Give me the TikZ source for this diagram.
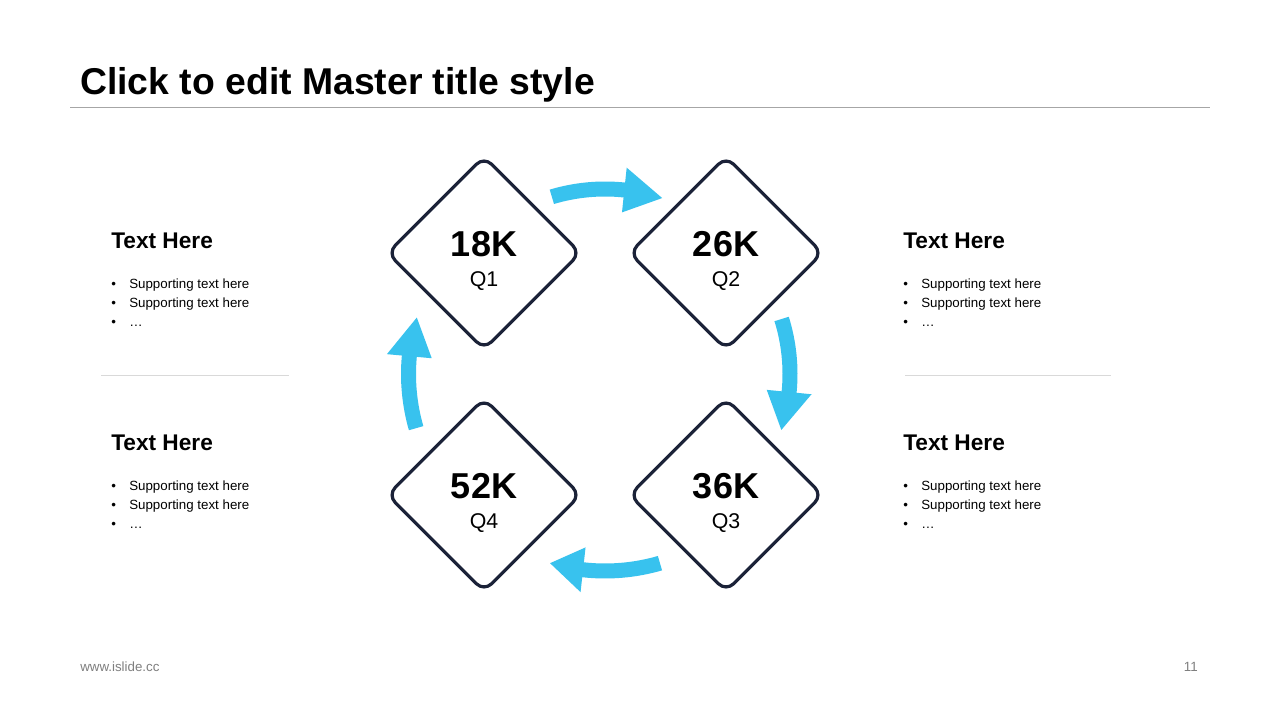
\documentclass[tikz,border=0pt]{standalone}
\usepackage{fontspec}
\setmainfont{Liberation Sans}
\usetikzlibrary{shapes.geometric,calc}
\definecolor{cy}{HTML}{38C2EE}
\definecolor{nv}{HTML}{1B2238}
\definecolor{rulegray}{HTML}{A6A6A6}
\definecolor{sepgray}{HTML}{D9D9D9}
\definecolor{footgray}{HTML}{7F7F7F}
\newcommand\mytblock[3]{%
  \node[headtxt] (#1h) at (#2,#3) {Text Here};
  \node[bultxt] (#1b1) at (#2,#3+40) {•};
  \node[bultxt] (#1t1) at (#2+18,#3+40) {Supporting text here};
  \node[bultxt] (#1b2) at (#2,#3+59) {•};
  \node[bultxt] (#1t2) at (#2+18,#3+59) {Supporting text here};
  \node[bultxt] (#1b3) at (#2,#3+78) {•};
  \node[bultxt] (#1t3) at (#2+18,#3+78) {…};
}
\newcommand\myarrow[4]{% radius, tail angle, head base angle, tip angle
  \fill[cy] (#2:#1+7.5) arc[start angle=#2, end angle=#3, radius=#1+7.5]
    -- (#3:#1+22.5) -- (#4:#1) -- (#3:#1-22.5) -- (#3:#1-7.5)
    arc[start angle=#3, end angle=#2, radius=#1-7.5] -- cycle;
}
\begin{document}
\begin{tikzpicture}[x=0.75pt,y=-0.75pt,
  quad/.style={diamond, draw=nv, line width=2.4pt, rounded corners=8pt,
    minimum width=145.5pt, minimum height=145.5pt, inner sep=0pt, fill=white},
  bignum/.style={anchor=base, inner sep=0pt, font=\bfseries\fontsize{27}{32}\selectfont},
  qlab/.style={anchor=base, inner sep=0pt, font=\fontsize{16}{19}\selectfont},
  headtxt/.style={anchor=base west, inner sep=0pt, font=\bfseries\fontsize{17}{20}\selectfont},
  bultxt/.style={anchor=base west, inner sep=0pt, font=\fontsize{10}{12}\selectfont},
  foot/.style={inner sep=0pt, text=footgray, font=\fontsize{10}{12}\selectfont}]
\useasboundingbox[fill=white] (0,0) rectangle (1280,720);
% title
\node[anchor=base west, inner sep=0pt, font=\bfseries\fontsize{28}{34}\selectfont] (title) at (80,95) {Click to edit Master title style};
\coordinate (rl) at (70,108);
\coordinate (rr) at (1210,108);
\draw[rulegray, line width=0.75pt] (rl) -- (rr);
% arrows
\begin{scope}[shift={(605,374)}, yscale=-1]
  \myarrow{185}{106.7}{84}{72}
  \myarrow{185}{17.3}{-5.6}{-17.6}
  \myarrow{197}{-73.8}{-96.4}{-106.2}
  \myarrow{196.5}{196}{174.8}{163.3}
\end{scope}
% diamonds
\node[quad] (d1) at (484,253) {};
\node[quad] (d2) at (726,253) {};
\node[quad] (d3) at (726,495) {};
\node[quad] (d4) at (484,495) {};
\node[bignum] (n1) at ($(d1)+(0,3)$) {18K};
\node[qlab] (l1) at ($(d1)+(0,33.5)$) {Q1};
\node[bignum] (n2) at ($(d2)+(0,3)$) {26K};
\node[qlab] (l2) at ($(d2)+(0,33.5)$) {Q2};
\node[bignum] (n3) at ($(d3)+(0,3)$) {36K};
\node[qlab] (l3) at ($(d3)+(0,33.5)$) {Q3};
\node[bignum] (n4) at ($(d4)+(0,3)$) {52K};
\node[qlab] (l4) at ($(d4)+(0,33.5)$) {Q4};
% side texts
\mytblock{a}{111}{248}
\mytblock{b}{111}{450}
\mytblock{c}{903}{248}
\mytblock{d}{903}{450}
\coordinate (s1a) at (101,375);
\coordinate (s1b) at (289,375);
\coordinate (s2a) at (905,375);
\coordinate (s2b) at (1111,375);
\draw[sepgray, line width=0.75pt] (s1a) -- (s1b);
\draw[sepgray, line width=0.75pt] (s2a) -- (s2b);
% footer
\node[foot, anchor=base west] (url) at (80,671) {www.islide.cc};
\node[foot, anchor=base east] (pg) at (1198,671) {11};
\end{tikzpicture}
\end{document}
